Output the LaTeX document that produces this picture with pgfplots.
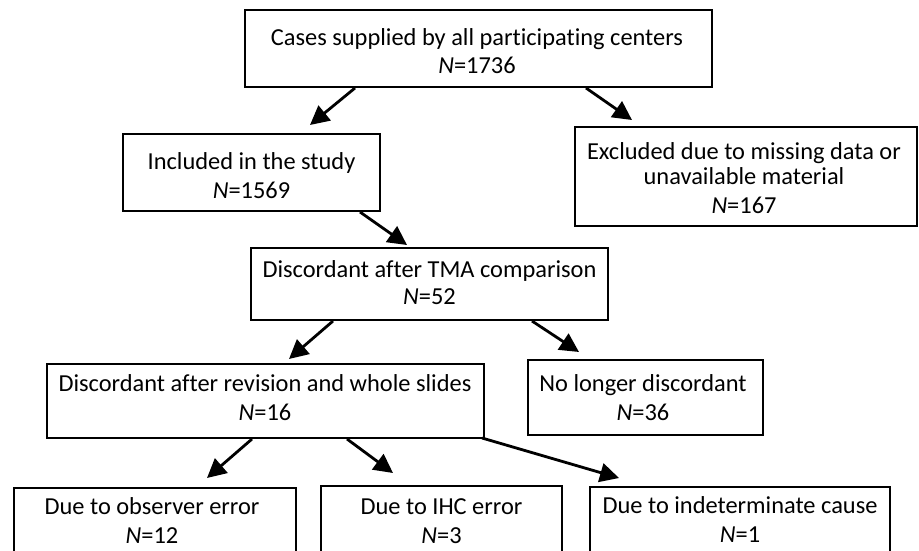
\documentclass[border=0pt]{standalone}
\usepackage{fontspec}
\setmainfont{Carlito}[RawFeature={-liga}]
\usepackage{pgfplots}
\pgfplotsset{compat=1.18}
\usetikzlibrary{arrows.meta}
\begin{document}
\begin{tikzpicture}[
  box/.style={black, line width=2.2pt, line join=miter, mark=none},
  arr/.style={black, line width=2.8pt, mark=none, -{Triangle[length=19pt,width=19pt]}},
  txt/.style={anchor=base, inner sep=0pt, font=\fontsize{24.4}{29}\selectfont},
]
\begin{axis}[
  scale only axis, width=919pt, height=551pt,
  xmin=0, xmax=919, ymin=0, ymax=551, y dir=reverse,
  axis lines=none, ticks=none,
]
% boxes
\addplot[box] coordinates {(245,10) (712,10) (712,87) (245,87) (245,10) (712,10)};
\addplot[box] coordinates {(123,134) (380,134) (380,211) (123,211) (123,134) (380,134)};
\addplot[box] coordinates {(575,127) (917,127) (917,226) (575,226) (575,127) (917,127)};
\addplot[box] coordinates {(251,248) (608,248) (608,320) (251,320) (251,248) (608,248)};
\addplot[box] coordinates {(47,364) (484,364) (484,438) (47,438) (47,364) (484,364)};
\addplot[box] coordinates {(528,360) (763,360) (763,435) (528,435) (528,360) (763,360)};
\addplot[box] coordinates {(14,600) (14,488) (296,488) (296,600)};
\addplot[box] coordinates {(321,600) (321,486) (562,486) (562,600)};
\addplot[box] coordinates {(590,600) (590,487) (890,487) (890,600)};
% arrows
\addplot[arr] coordinates {(355,88) (310,125)};
\addplot[arr] coordinates {(586,88) (632,120)};
\addplot[arr] coordinates {(360,212) (407,245)};
\addplot[arr] coordinates {(333,321) (289,359)};
\addplot[arr] coordinates {(532,321) (579,352)};
\addplot[arr] coordinates {(252,439) (207,478)};
\addplot[arr] coordinates {(347,439) (393,473)};
\addplot[arr] coordinates {(482,438) (619,478)};
% texts
\node[txt] at (axis cs:477,46) {Cases supplied by all participating centers};
\node[txt] at (axis cs:477,74) {\textit{N}=1736};
\node[txt] at (axis cs:251.5,169) {Included in the study};
\node[txt] at (axis cs:251.5,198) {\textit{N}=1569};
\node[txt] at (axis cs:744,159) {Excluded due to missing data or};
\node[txt] at (axis cs:744,184) {unavailable material};
\node[txt] at (axis cs:744,213) {\textit{N}=167};
\node[txt] at (axis cs:429.5,277) {Discordant after TMA comparison};
\node[txt] at (axis cs:429.5,304) {\textit{N}=52};
\node[txt] at (axis cs:265,391) {Discordant after revision and whole slides};
\node[txt] at (axis cs:265,420) {\textit{N}=16};
\node[txt] at (axis cs:643,391) {No longer discordant};
\node[txt] at (axis cs:643,420) {\textit{N}=36};
\node[txt] at (axis cs:152,514) {Due to observer error};
\node[txt] at (axis cs:152,543) {\textit{N}=12};
\node[txt] at (axis cs:441.5,514) {Due to IHC error};
\node[txt] at (axis cs:441.5,543) {\textit{N}=3};
\node[txt] at (axis cs:740,513) {Due to indeterminate cause};
\node[txt] at (axis cs:740,542) {\textit{N}=1};
\end{axis}
\path (current axis.south west) rectangle (current axis.north east);
\end{tikzpicture}
\end{document}
